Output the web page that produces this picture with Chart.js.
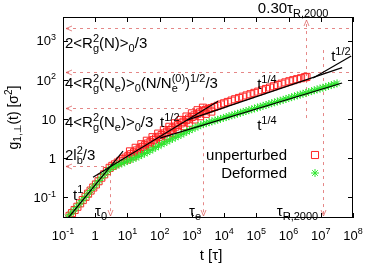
<!DOCTYPE html>
<html>
<head>
<meta charset="utf-8">
<script src="https://cdn.jsdelivr.net/npm/chart.js@4.4.0/dist/chart.umd.min.js"></script>
<style>
  html, body { margin: 0; padding: 0; background: #fff; }
  canvas { display: block; }
</style>
</head>
<body>
<canvas id="msdChart" width="380" height="266"></canvas>
<script>
// g_1,perp(t) (t in tau, g in sigma^2)
const unperturbedT = [0.16, 0.19, 0.23, 0.28, 0.34, 0.41, 0.5, 0.6, 0.72, 0.87, 1.05, 1.27, 1.55, 1.9, 2.3, 2.8, 3.4, 4.1, 5.0, 6.0, 7.3, 8.8, 10.7, 13, 16, 19.5, 24, 29, 35, 43, 52, 63, 77, 94, 115, 140, 170, 207, 250, 305, 370, 450, 550, 670, 815, 990, 1200, 1470, 1790, 2180, 2650, 3250, 4000, 5000, 6300, 8000, 10000, 13000, 17000, 22000, 29000, 38000, 50000, 66000, 87000, 115000, 150000, 200000, 265000, 350000, 460000, 610000, 800000, 1060000, 1400000, 1850000, 2450000, 3200000, 3600000];
const unperturbedG = [0.034, 0.040, 0.048, 0.058, 0.071, 0.086, 0.104, 0.125, 0.15, 0.18, 0.215, 0.26, 0.32, 0.39, 0.47, 0.57, 0.64, 0.7, 0.78, 0.86, 0.95, 1.04, 1.15, 1.27, 1.42, 1.58, 1.76, 1.95, 2.15, 2.38, 2.62, 2.9, 3.2, 3.52, 3.9, 4.3, 4.75, 5.25, 5.8, 6.4, 7.05, 7.75, 8.55, 9.4, 10.3, 11.3, 12.4, 13.6, 14.8, 15.9, 16.9, 17.9, 19.0, 20.3, 21.8, 23.5, 25.2, 27.3, 29.6, 32, 34.5, 37.2, 40, 43, 46.5, 50, 54, 58.5, 63.5, 68.5, 74, 80, 86, 92, 98, 104, 110, 116, 119];
// the red band is wide between tau_0 and tau_e: its upper and lower edges
const unperturbedUpperT = [12, 18, 27, 40, 60, 90, 135, 200, 300, 450, 680, 1000, 1500, 2200];
const unperturbedUpperG = [1.5, 1.85, 2.28, 2.8, 3.45, 4.25, 5.2, 6.35, 7.8, 9.5, 11.6, 14.0, 16.8, 19.5];
const unperturbedLowerT = [10, 15, 22, 33, 50, 75, 110, 165, 250, 370, 550, 820, 1200, 1800, 2700, 4000];
const unperturbedLowerG = [0.93, 1.12, 1.36, 1.65, 2.02, 2.45, 3.0, 3.65, 4.45, 5.45, 6.6, 8.05, 9.75, 11.8, 13.6, 15.5];

const deformedT = [0.14, 0.17, 0.21, 0.26, 0.32, 0.39, 0.48, 0.59, 0.72, 0.88, 1.08, 1.32, 1.62, 2.0, 2.45, 3.0, 3.7, 4.5, 5.5, 6.7, 8.2, 10, 12.3, 15, 18.5, 22.5, 27.5, 34, 41, 50, 61, 75, 92, 112, 137, 168, 205, 250, 305, 375, 460, 560, 690, 840, 1030, 1260, 1540, 1880, 2300, 2800, 3450, 4200, 5200, 6300, 7700, 9500, 11600, 14200, 17400, 21300, 26000, 32000, 39000, 48000, 59000, 72000, 88000, 108000, 132000, 162000, 200000, 245000, 300000, 370000, 450000, 550000, 680000, 830000, 1020000, 1250000, 1530000, 1880000, 2300000, 2800000, 3450000, 4200000, 5200000, 6300000, 7700000, 9500000, 11600000, 14200000, 17400000, 21300000, 26000000, 32000000];
const deformedG = [0.031, 0.037, 0.045, 0.055, 0.068, 0.083, 0.1, 0.123, 0.15, 0.183, 0.222, 0.27, 0.33, 0.4, 0.48, 0.56, 0.61, 0.65, 0.7, 0.74, 0.79, 0.85, 0.91, 0.97, 1.04, 1.12, 1.21, 1.32, 1.43, 1.56, 1.71, 1.88, 2.06, 2.25, 2.45, 2.66, 2.9, 3.14, 3.4, 3.7, 4.0, 4.35, 4.75, 5.15, 5.6, 6.05, 6.5, 7.0, 7.45, 7.85, 8.3, 8.7, 9.2, 9.6, 10.1, 10.7, 11.2, 11.8, 12.4, 13.0, 13.7, 14.4, 15.2, 16.0, 16.8, 17.7, 18.6, 19.6, 20.6, 21.7, 22.8, 24.0, 25.3, 26.6, 28.0, 29.4, 31.0, 32.6, 34.3, 36.1, 38.0, 40.0, 42.0, 44.2, 46.5, 48.9, 51.5, 54.1, 56.9, 59.9, 63.0, 66.3, 69.7, 73.3, 77.1, 81.2];

// power-law guide lines (end points)
const slopeOneT = [0.144, 7.3];
const slopeOneG = [0.03, 1.52];
const slopeHalfEarlyT = [0.855, 6450];
const slopeHalfEarlyG = [0.327, 28.4];
const slopeQuarterUnpT = [710, 4.6e7];
const slopeQuarterUnpG = [9.42, 204];
const slopeQuarterDefT = [102, 4.6e7];
const slopeQuarterDefG = [3.27, 82.8];
const slopeHalfLateT = [5.8e6, 8.8e7];
const slopeHalfLateG = [111, 405];

// dashed reference levels and times
const levelG = [2100, 158, 19.1, 0.63];
const levelEndT = [1e8, 1e8, 2230, 2.88];
const markT = [2.88, 2230, 3.5e6, 1.2e7];      // tau_0, tau_e, 0.30 tau_R, tau_R
const markEndG = [0.63, 36, 10.6, 575];
const markArrowUp = [false, false, true, false];

const xTicks = [0.1, 1, 10, 100, 1e3, 1e4, 1e5, 1e6, 1e7, 1e8];
const xTickLabels = ['10^{-1}', '1', '10^1', '10^2', '10^3', '10^4', '10^5', '10^6', '10^7', '10^8'];
const yTicks = [0.1, 1, 10, 100, 1000];
const yTickLabels = ['10^{-1}', '1', '10', '10^2', '10^3'];

const FONT = '"Liberation Sans", "DejaVu Sans", Arial, sans-serif';
const REF = 'rgba(215, 70, 70, 0.65)';

function pts(ts, gs) {
    return ts.map((t, i) => ({ x: t, y: gs[i] }));
}

// tiny markup: ^{..} sup, _{..} sub, adjacent sub+sup stacked
function parseRich(s) {
    const out = [];
    let buf = '';
    let i = 0;
    while (i < s.length) {
        const c = s[i];
        if (c === '^' || c === '_') {
            if (buf) { out.push({ t: buf }); buf = ''; }
            let arg;
            if (s[i + 1] === '{') {
                const j = s.indexOf('}', i + 2);
                arg = s.slice(i + 2, j);
                i = j + 1;
            } else {
                arg = s[i + 1];
                i += 2;
            }
            const key = c === '^' ? 'sup' : 'sub';
            const last = out[out.length - 1];
            if (last && last.t === undefined && last[key] === undefined) last[key] = arg;
            else out.push({ [key]: arg });
            continue;
        }
        buf += c;
        i++;
    }
    if (buf) out.push({ t: buf });
    return out;
}

function drawRich(ctx, s, x, y, size, align) {
    const parts = parseRich(s);
    const small = Math.round(size * 0.72);
    const big = size + 'px ' + FONT;
    const sm = small + 'px ' + FONT;
    const widths = parts.map(p => {
        if (p.t !== undefined) { ctx.font = big; return ctx.measureText(p.t).width; }
        ctx.font = sm;
        return Math.max(p.sup ? ctx.measureText(p.sup).width : 0, p.sub ? ctx.measureText(p.sub).width : 0);
    });
    const total = widths.reduce((a, b) => a + b, 0);
    let cx = x;
    if (align === 'right') cx = x - total;
    else if (align === 'center') cx = x - total / 2;
    const base = y + size * 0.36;
    ctx.textAlign = 'left';
    ctx.textBaseline = 'alphabetic';
    parts.forEach((p, i) => {
        if (p.t !== undefined) {
            ctx.font = big;
            ctx.fillText(p.t, cx, base);
        } else {
            ctx.font = sm;
            if (p.sup) ctx.fillText(p.sup, cx, base - size * 0.42);
            if (p.sub) ctx.fillText(p.sub, cx, base + size * 0.24);
        }
        cx += widths[i];
    });
}

function arrowHead(ctx, x, y, dx, dy) {
    const len = 6, half = 2.5;
    const px = -dy, py = dx;
    ctx.beginPath();
    ctx.moveTo(x - dx * len + px * half, y - dy * len + py * half);
    ctx.lineTo(x, y);
    ctx.lineTo(x - dx * len - px * half, y - dy * len - py * half);
    ctx.stroke();
}

const overlay = {
    id: 'overlay',
    beforeDatasetsDraw(chart) {
        const { ctx, chartArea: a, scales: { x, y } } = chart;
        ctx.save();
        ctx.strokeStyle = REF;
        ctx.lineWidth = 1;
        // horizontal levels, arrow pointing to the y axis
        levelG.forEach((g, i) => {
            const py = Math.round(y.getPixelForValue(g)) + 0.5;
            const x0 = a.left + 3;
            const x1 = Math.min(x.getPixelForValue(levelEndT[i]), a.right);
            ctx.setLineDash([3, 4]);
            ctx.beginPath();
            ctx.moveTo(x0, py);
            ctx.lineTo(x1, py);
            ctx.stroke();
            ctx.setLineDash([]);
            arrowHead(ctx, x0, py, -1, 0);
        });
        // vertical time marks
        markT.forEach((t, i) => {
            const px = Math.round(x.getPixelForValue(t)) + 0.5;
            const pEnd = y.getPixelForValue(markEndG[i]);
            const tip = markArrowUp[i] ? a.top + 3 : a.bottom - 2;
            ctx.setLineDash([3, 4]);
            ctx.beginPath();
            ctx.moveTo(px, pEnd);
            ctx.lineTo(px, tip);
            ctx.stroke();
            ctx.setLineDash([]);
            arrowHead(ctx, px, tip, 0, markArrowUp[i] ? -1 : 1);
        });
        ctx.restore();
    },
    afterDatasetsDraw(chart) {
        const { ctx, chartArea: a, scales: { x, y } } = chart;
        ctx.save();
        ctx.strokeStyle = '#000';
        ctx.fillStyle = '#000';
        ctx.lineWidth = 1;
        ctx.strokeRect(a.left + 0.5, a.top + 0.5, a.right - a.left - 1, a.bottom - a.top - 1);

        // inward ticks on all four sides
        ctx.beginPath();
        xTicks.forEach(t => {
            const px = Math.round(x.getPixelForValue(t)) + 0.5;
            ctx.moveTo(px, a.bottom); ctx.lineTo(px, a.bottom - 5);
            ctx.moveTo(px, a.top); ctx.lineTo(px, a.top + 5);
        });
        yTicks.forEach(g => {
            const py = Math.round(y.getPixelForValue(g)) + 0.5;
            ctx.moveTo(a.left, py); ctx.lineTo(a.left + 5, py);
            ctx.moveTo(a.right, py); ctx.lineTo(a.right - 5, py);
        });
        ctx.stroke();

        xTicks.forEach((t, i) => drawRich(ctx, xTickLabels[i], x.getPixelForValue(t), a.bottom + 17, 13, 'center'));
        yTicks.forEach((g, i) => drawRich(ctx, yTickLabels[i], a.left - 7, y.getPixelForValue(g), 13, 'right'));

        // annotations, anchored in data coordinates
        const notes = [
            { text: '2<R_g^2(N)>_0/3', t: 0.115, g: 868 },
            { text: '4<R_g^2(N_e)>_0(N/N_e^{(0)})^{1/2}/3', t: 0.115, g: 82.8 },
            { text: '4<R_g^2(N_e)>_0/3', t: 0.115, g: 8.37 },
            { text: '2l_b^2/3', t: 0.115, g: 1.21 },
            { text: 't^1', t: 0.205, g: 0.122 },
            { text: 't^{1/2}', t: 103, g: 8.37 },
            { text: 't^{1/4}', t: 1.06e5, g: 78.2 },
            { text: 't^{1/4}', t: 1.06e5, g: 7.03 },
            { text: 't^{1/2}', t: 2.1e7, g: 405 },
            { text: 'τ_0', t: 2.32, g: 0.045, align: 'right' },
            { text: 'τ_e', t: 1930, g: 0.045, align: 'right' },
            { text: 'τ_{R,2000}', t: 8.3e6, g: 0.045, align: 'right' },
            { text: '0.30τ_{R,2000}', t: 1.39e6, g: 6800, align: 'center' }
        ];
        notes.forEach(n => drawRich(ctx, n.text, x.getPixelForValue(n.t), y.getPixelForValue(n.g), 15, n.align || 'left'));

        // legend
        const legendRows = [
            { ds: chart.data.datasets[1], dy: 138 },
            { ds: chart.data.datasets[0], dy: 156 }
        ];
        legendRows.forEach(r => {
            const ly = a.top + r.dy;
            ctx.fillStyle = '#000';
            drawRich(ctx, r.ds.label, a.right - 66, ly, 15, 'right');
            ctx.strokeStyle = r.ds.borderColor;
            ctx.fillStyle = 'rgba(0,0,0,0)';
            Chart.helpers.drawPoint(ctx, {
                pointStyle: r.ds.pointStyle,
                radius: r.ds.pointRadius,
                borderWidth: 1,
                rotation: 0
            }, a.right - 38, ly);
        });

        // axis titles
        ctx.fillStyle = '#000';
        drawRich(ctx, 't [τ]', (a.left + a.right) / 2 + 3, a.bottom + 37, 15, 'center');
        ctx.save();
        ctx.translate(13, (a.top + a.bottom) / 2);
        ctx.rotate(-Math.PI / 2);
        drawRich(ctx, 'g_{1,⊥}(t) [σ^2]', 0, 0, 14, 'center');
        ctx.restore();
        ctx.restore();
    }
};

const guide = (ts, gs) => ({
    data: pts(ts, gs),
    showLine: true,
    borderColor: '#000',
    borderWidth: 1.2,
    pointRadius: 0,
    fill: false,
    order: 1
});

new Chart(document.getElementById('msdChart'), {
    type: 'scatter',
    data: {
        datasets: [
            {
                label: 'Deformed',
                data: pts(deformedT, deformedG),
                pointStyle: 'star',
                pointRadius: 4,
                borderColor: '#2ee62e',
                backgroundColor: '#2ee62e',
                borderWidth: 1,
                order: 2
            },
            {
                label: 'unperturbed',
                data: pts(unperturbedT, unperturbedG)
                    .concat(pts(unperturbedUpperT, unperturbedUpperG))
                    .concat(pts(unperturbedLowerT, unperturbedLowerG)),
                pointStyle: 'rect',
                pointRadius: 5,
                borderColor: '#ff2525',
                backgroundColor: 'rgba(0,0,0,0)',
                borderWidth: 1,
                order: 3
            },
            guide(slopeOneT, slopeOneG),
            guide(slopeHalfEarlyT, slopeHalfEarlyG),
            guide(slopeQuarterUnpT, slopeQuarterUnpG),
            guide(slopeQuarterDefT, slopeQuarterDefG),
            guide(slopeHalfLateT, slopeHalfLateG)
        ]
    },
    options: {
        responsive: false,
        animation: false,
        events: [],
        layout: { padding: { left: 63, right: 27, top: 17, bottom: 48 } },
        plugins: {
            legend: { display: false },
            tooltip: { enabled: false }
        },
        scales: {
            x: { type: 'logarithmic', min: 0.1, max: 1e8, display: false },
            y: { type: 'logarithmic', min: 0.03, max: 4000, display: false }
        }
    },
    plugins: [overlay]
});
</script>
</body>
</html>
